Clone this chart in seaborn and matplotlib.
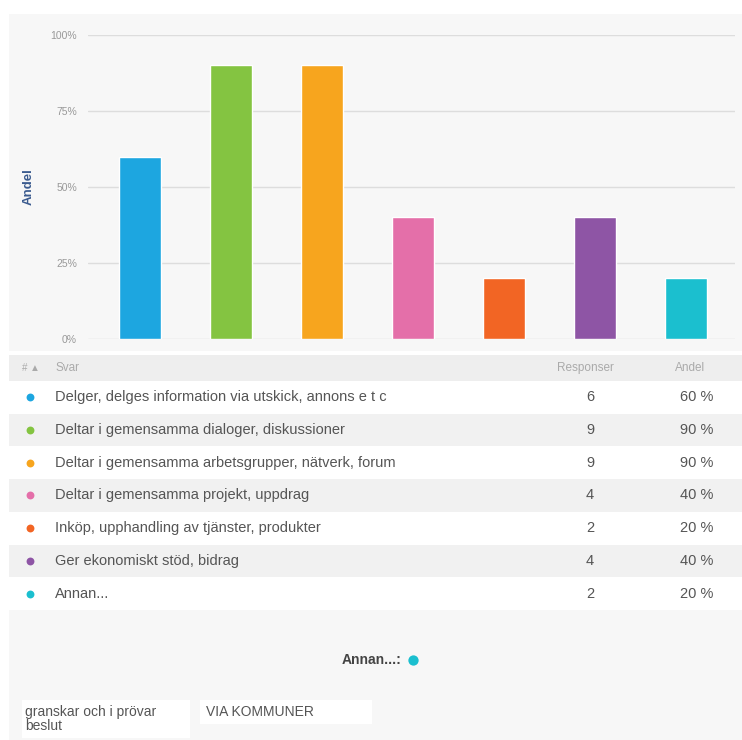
import matplotlib
matplotlib.use("Agg")
import matplotlib.pyplot as plt
import matplotlib.patches as mpatches
import seaborn as sns
import pandas as pd

# ---- data ----
categories = [
    "Delger, delges information via utskick, annons e t c",
    "Deltar i gemensamma dialoger, diskussioner",
    "Deltar i gemensamma arbetsgrupper, nätverk, forum",
    "Deltar i gemensamma projekt, uppdrag",
    "Inköp, upphandling av tjänster, produkter",
    "Ger ekonomiskt stöd, bidrag",
    "Annan...",
]
responses = [6, 9, 9, 4, 2, 4, 2]
shares = [0.60, 0.90, 0.90, 0.40, 0.20, 0.40, 0.20]
colors = ["#1da6e0", "#84c441", "#f7a51e", "#e46fa9", "#f26524", "#8e55a5", "#1bbfcf"]
ytick_vals = [0, 0.25, 0.5, 0.75, 1.0]
ytick_labels = ["0%", "25%", "50%", "75%", "100%"]
header = ["# \u25b2", "Svar", "Responser", "Andel"]
other_title = "Annan...:"
other_answers = ["granskar och i prövar\nbeslut", "VIA KOMMUNER"]

sns.set_theme(style="white")
plt.rcParams["font.family"] = ["Liberation Sans", "DejaVu Sans"]

W, H = 742, 740
fig = plt.figure(figsize=(W / 100, H / 100), dpi=100)
fig.patch.set_facecolor("white")

# background overlay in pixel coordinates
ov = fig.add_axes([0, 0, 1, 1], zorder=0)
ov.set_xlim(0, W)
ov.set_ylim(H, 0)
ov.axis("off")

def rect(x0, y0, x1, y1, c):
    ov.add_patch(mpatches.Rectangle((x0, y0), x1 - x0, y1 - y0, facecolor=c, edgecolor="none"))

rect(9, 14, W, 351, "#f7f7f7")       # chart panel
rect(9, 355, W, 381, "#eeeeee")      # table header
row_top = 381
row_h = 32.7
for i in range(len(categories)):
    y0 = row_top + i * row_h
    rect(9, y0, W, y0 + row_h, "#ffffff" if i % 2 == 0 else "#f1f1f1")
rect(9, row_top + 7 * row_h, W, H, "#f7f7f7")  # bottom panel

# header texts
hy = 368
ov.text(22, hy, header[0], fontsize=7, color="#aaaaaa", va="center", ha="left")
ov.text(56, hy, header[1], fontsize=8.5, color="#aaaaaa", va="center", ha="left")
ov.text(585, hy, header[2], fontsize=8.5, color="#aaaaaa", va="center", ha="center")
ov.text(690, hy, header[3], fontsize=8.5, color="#aaaaaa", va="center", ha="center")

# table rows
for i, (cat, r, s, c) in enumerate(zip(categories, responses, shares, colors)):
    yc = row_top + i * row_h + row_h / 2
    ov.scatter([30], [yc], s=32, color=c, zorder=3, linewidths=0)
    ov.text(55, yc, cat, fontsize=10.5, color="#555555", va="center", ha="left")
    ov.text(590, yc, f"{r}", fontsize=10.5, color="#555555", va="center", ha="center")
    ov.text(713, yc, f"{int(round(s * 100))} %", fontsize=10.5, color="#555555", va="center", ha="right")

# "Annan..." section
ov.text(402, 660, other_title, fontsize=10, color="#444444", fontweight="bold", va="center", ha="right")
ov.scatter([413], [660], s=55, color=colors[-1], zorder=3, linewidths=0)
rect(22, 700, 190, 738, "#ffffff")
rect(200, 700, 372, 724, "#ffffff")
ov.text(25, 719, other_answers[0], fontsize=10, color="#555555", va="center", ha="left", linespacing=0.95)
ov.text(206, 712, other_answers[1], fontsize=10, color="#555555", va="center", ha="left")

# bar chart axes
left_px, right_px = 88, 735
y0_px, y100_px = 339, 35
ax = fig.add_axes([left_px / W, (H - y0_px) / H, (right_px - left_px) / W, (y0_px - y100_px) / H], zorder=1)
ax.patch.set_alpha(0)

df = pd.DataFrame({"Svar": categories, "Andel": shares})
sns.barplot(data=df, x="Svar", y="Andel", hue="Svar", palette=colors, order=categories,
            hue_order=categories, width=0.47, legend=False, saturation=1, ax=ax, zorder=2)
ax.set_ylim(0, 1)
ax.set_xlim(-0.571, 6.539)
ax.set_yticks(ytick_vals)
ax.set_yticklabels(ytick_labels, fontsize=7.5, color="#999999")
ax.set_xticks([])
ax.set_xlabel("")
ax.set_ylabel("Andel", fontsize=9.5, color="#3b5b8f", fontweight="bold")
ax.yaxis.set_label_coords((35 - left_px) / (right_px - left_px), 0.5)
ax.tick_params(axis="y", length=0, pad=8)
for y in ytick_vals:
    ax.axhline(y, color="#dddddd", linewidth=1, zorder=1)
for sp in ax.spines.values():
    sp.set_visible(False)

fig.savefig("out.png", dpi=100, facecolor="white")
